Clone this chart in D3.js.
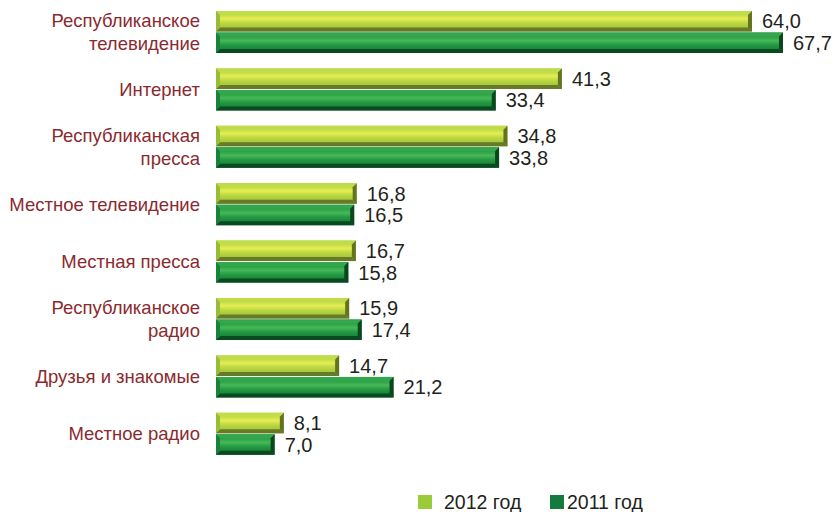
<!DOCTYPE html>
<html>
<head>
<meta charset="utf-8">
<script src="https://cdn.jsdelivr.net/npm/d3@7"></script>
<style>
  html, body { margin: 0; padding: 0; background: #fff; }
  svg { display: block; }
  text { font-family: "Liberation Sans", Arial, sans-serif; }
</style>
</head>
<body>
<svg id="chart" width="834" height="512"></svg>
<script>
const categories = [
  ["Республиканское", "телевидение"],
  ["Интернет"],
  ["Республиканская", "пресса"],
  ["Местное телевидение"],
  ["Местная пресса"],
  ["Республиканское", "радио"],
  ["Друзья и знакомые"],
  ["Местное радио"]
];
const seriesNames = ["2012 год", "2011 год"];
const values2012 = [64.0, 41.3, 34.8, 16.8, 16.7, 15.9, 14.7, 8.1];
const values2011 = [67.7, 33.4, 33.8, 16.5, 15.8, 17.4, 21.2, 7.0];

const svg = d3.select("#chart");

const x = d3.scaleLinear().domain([0, 67.7]).range([216, 783]);
const y0 = d3.scaleBand().domain(d3.range(categories.length)).range([3.3, 462.5]).paddingInner(0.25).paddingOuter(0.125);
const y1 = d3.scaleBand().domain([0, 1]).range([0, y0.bandwidth()]);

const styles = [
  { // 2012
    legend: "#9bcb3b",
    grad: [["0%", "#a9cf3e"], ["22%", "#c8e046"], ["38%", "#e6ed55"], ["58%", "#bcd842"], ["85%", "#a2c43a"], ["100%", "#86a030"]],
    top: "#c0dc48", bottom: "#687a28", left: "#98bc3a", right: "#627424"
  },
  { // 2011
    legend: "#137c3c",
    grad: [["0%", "#1b8c3e"], ["22%", "#2da248"], ["40%", "#48b857"], ["60%", "#249a44"], ["85%", "#168238"], ["100%", "#106c30"]],
    top: "#34a64e", bottom: "#0a4a20", left: "#18823a", right: "#0a461e"
  }
];

const defs = svg.append("defs");
styles.forEach((s, i) => {
  const g = defs.append("linearGradient").attr("id", "g" + i).attr("x1", 0).attr("y1", 0).attr("x2", 0).attr("y2", 1);
  s.grad.forEach(([o, c]) => g.append("stop").attr("offset", o).attr("stop-color", c));
});

const data = categories.map((c, i) => ({ i, cat: c, vals: [values2012[i], values2011[i]] }));

const groups = svg.append("g").selectAll("g").data(data).join("g")
  .attr("transform", d => `translate(0,${y0(d.i)})`);

const B = 4;
groups.each(function(d) {
  const g = d3.select(this);
  d.vals.forEach((v, s) => {
    const xa = x(0), xb = x(v);
    const ya = y1(s) + 0.5, yb = y1(s) + y1.bandwidth() - 0.5;
    const st = styles[s];
    const bar = g.append("g");
    bar.append("rect").attr("x", xa).attr("y", ya).attr("width", xb - xa).attr("height", yb - ya)
      .attr("fill", `url(#g${s})`);
    const poly = (pts, fill) => bar.append("polygon").attr("points", pts.map(p => p.join(",")).join(" ")).attr("fill", fill);
    poly([[xa, ya], [xb, ya], [xb - B, ya + B], [xa + B, ya + B]], st.top);
    poly([[xa, yb], [xb, yb], [xb - B, yb - B], [xa + B, yb - B]], st.bottom);
    poly([[xa, ya], [xa + B, ya + B], [xa + B, yb - B], [xa, yb]], st.left);
    poly([[xb, ya], [xb - B, ya + B], [xb - B, yb - B], [xb, yb]], st.right);
    g.append("text")
      .attr("x", xb + 10)
      .attr("y", (ya + yb) / 2)
      .attr("dy", "0.36em")
      .attr("font-size", 20)
      .attr("fill", "#231f20")
      .text(d3.format(".1f")(v).replace(".", ","));
  });
  const lines = d.cat;
  const cy = y0.bandwidth() / 2;
  const lh = 23;
  const t = g.append("text")
    .attr("text-anchor", "end")
    .attr("font-size", 18.5)
    .attr("fill", "#8b2a2e");
  lines.forEach((ln, k) => {
    t.append("tspan").attr("x", 200)
      .attr("y", cy + (k - (lines.length - 1) / 2) * lh)
      .attr("dy", "0.36em")
      .text(ln);
  });
});

// legend
const legend = svg.append("g");
const legendX = [418, 550];
seriesNames.forEach((n, i) => {
  legend.append("rect").attr("x", legendX[i]).attr("y", 495).attr("width", 14).attr("height", 14).attr("fill", styles[i].legend);
  legend.append("text").attr("x", legendX[i] + (i === 0 ? 26 : 17)).attr("y", 509)
    .attr("font-size", 19.5).attr("fill", "#231f20").text(n);
});
</script>
</body>
</html>
